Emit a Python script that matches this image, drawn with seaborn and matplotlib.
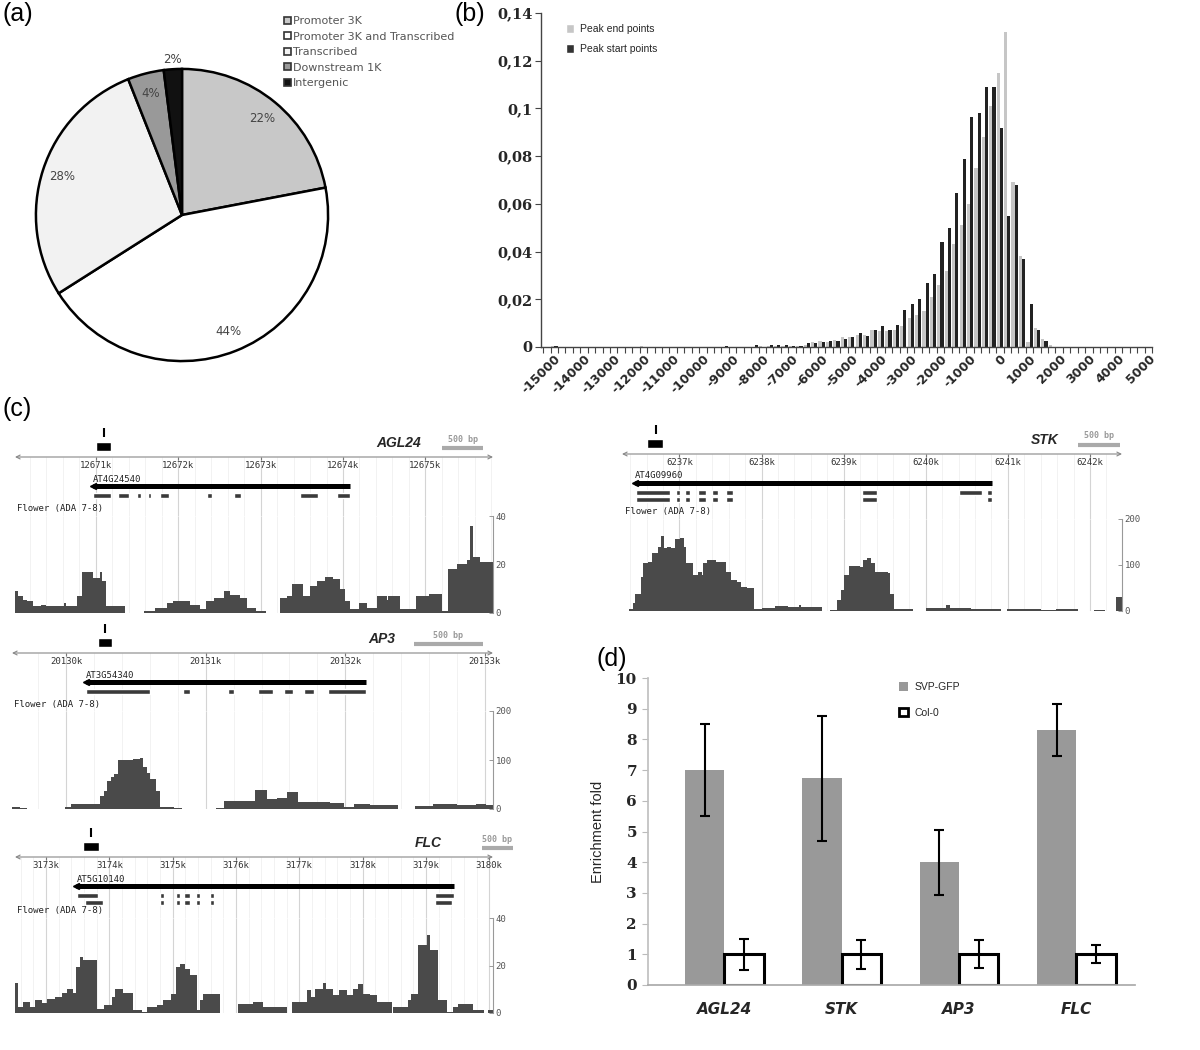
import numpy as np
import pandas as pd
import matplotlib
matplotlib.use("Agg")
import matplotlib.pyplot as plt
import seaborn as sns
from matplotlib.patches import Patch

# ======================= DATA =======================
# (a) distribution of peaks over genomic regions
region_labels = ["Promoter 3K", "Promoter 3K and Transcribed", "Transcribed",
                 "Downstream 1K", "Intergenic"]
region_share = [22, 44, 28, 4, 2]
region_colors = ["#c8c8c8", "#ffffff", "#f2f2f2", "#999999", "#111111"]

# (b) distance of peak start / end points to TSS (250 bp bins)
dist_bins = list(range(-15000, 5001, 250))
peak_end = [
    0.0003, 0, 0, 0, 0, 0, 0, 0, 0, 0,
    0, 0, 0.0004, 0, 0, 0, 0, 0, 0, 0,
    0, 0, 0, 0, 0, 0, 0, 0, 0.0003, 0.0005,
    0.0006, 0.0005, 0.0004, 0.0006, 0.001, 0.002, 0.0025, 0.002, 0.003, 0.004,
    0.004, 0.005, 0.005, 0.007, 0.0067, 0.0068, 0.007, 0.009, 0.012, 0.0135,
    0.015, 0.021, 0.026, 0.032, 0.043, 0.051, 0.060, 0.075, 0.088, 0.101,
    0.115, 0.132, 0.069, 0.038, 0.002, 0.008, 0.0035, 0.001, 0, 0,
    0, 0, 0, 0, 0, 0, 0, 0, 0, 0,
    0]
peak_start = [
    0.0005, 0, 0, 0, 0, 0, 0, 0, 0, 0,
    0, 0, 0, 0, 0, 0, 0, 0, 0, 0,
    0, 0, 0, 0.0004, 0, 0, 0, 0.001, 0, 0.001,
    0.0008, 0.001, 0.0006, 0.0005, 0.0018, 0.0015, 0.002, 0.0025, 0.0025, 0.0035,
    0.004, 0.006, 0.0045, 0.0072, 0.0089, 0.0071, 0.0092, 0.0155, 0.018, 0.020,
    0.027, 0.0306, 0.044, 0.050, 0.0647, 0.0788, 0.0966, 0.098, 0.109, 0.109,
    0.092, 0.055, 0.068, 0.037, 0.018, 0.0072, 0.0025, 0, 0, 0,
    0, 0, 0, 0, 0, 0, 0, 0, 0, 0,
    0]
dist_yticks = [0, 0.02, 0.04, 0.06, 0.08, 0.10, 0.12, 0.14]
dist_ytick_labels = ["0", "0,02", "0,04", "0,06", "0,08", "0,1", "0,12", "0,14"]

# (c) genome browser tracks (positions in kb, coverage in reads)
agl24_cov_kb = [12670.02, 12670.06, 12670.12, 12670.16, 12670.24, 12670.34, 12670.40, 12670.62,
                12670.64, 12670.77, 12670.83, 12670.97, 12671.05, 12671.08, 12671.13, 12671.36,
                12671.58, 12671.72, 12671.86, 12671.94, 12672.14, 12672.26, 12672.34, 12672.43,
                12672.55, 12672.63, 12672.75, 12672.83, 12672.95, 12673.07, 12673.24, 12673.32,
                12673.38, 12673.52, 12673.60, 12673.68, 12673.78, 12673.88, 12673.96, 12674.02,
                12674.09, 12674.19, 12674.29, 12674.41, 12674.53, 12674.55, 12674.69, 12674.88,
                12675.04, 12675.20, 12675.28, 12675.38, 12675.50, 12675.54, 12675.58, 12675.66,
                12675.75, 12675.82]
agl24_cov = [9, 7, 5.5, 5, 3, 3.5, 3, 4,
             3, 7, 17, 14.5, 17, 13, 3, 0,
             0.7, 2, 4, 5, 3.5, 1.6, 5, 6,
             9, 7.5, 6, 2, 0.7, 0, 6, 7,
             12, 7, 11, 13, 15, 14, 10, 5,
             1.8, 4, 2, 7, 5.5, 7, 1.6, 7,
             8, 0.7, 18, 20, 22, 36, 23, 21,
             21, 21]
agl24_exon_start = [12670.968, 12671.271, 12671.502, 12671.628, 12671.781, 12672.352, 12672.676, 12673.478, 12673.931]
agl24_exon_end = [12671.190, 12671.405, 12671.543, 12671.676, 12671.883, 12672.409, 12672.757, 12673.700, 12674.085]
agl24_gene_kb = [12670.97, 12674.085]
agl24_primer_kb = [12671.0, 12671.19, 12671.10]

stk_cov_kb = [6236.30, 6236.39, 6236.43, 6236.46, 6236.53, 6236.55, 6236.62, 6236.67, 6236.74, 6236.78,
              6236.81, 6236.85, 6236.90, 6236.94, 6237.01, 6237.06, 6237.08, 6237.17, 6237.22, 6237.27,
              6237.29, 6237.34, 6237.45, 6237.57, 6237.63, 6237.70, 6237.75, 6237.82, 6237.91, 6238.00,
              6238.16, 6238.32, 6238.46, 6238.48, 6238.74, 6238.83, 6238.92, 6238.97, 6239.01, 6239.06,
              6239.20, 6239.24, 6239.29, 6239.33, 6239.38, 6239.54, 6239.56, 6239.61, 6239.70, 6239.84,
              6240.00, 6240.25, 6240.30, 6240.55, 6240.71, 6240.92, 6240.99, 6241.13, 6241.40, 6241.59,
              6241.86, 6242.05, 6242.18, 6242.32, 6242.39]
stk_cov = [0, 5, 17, 38, 75, 105, 107, 127, 140, 162,
           137, 140, 137, 157, 158, 140, 104, 78, 85, 78,
           104, 111, 107, 85, 67, 64, 53, 49, 5, 7,
           10, 9, 14, 9, 0, 1.5, 23, 45, 78, 98,
           96, 111, 115, 104, 85, 82, 38, 5, 4, 0,
           7, 12, 7, 5, 4, 0, 5, 4, 1.5, 4,
           0, 3, 0, 31, 31]
stk_exon_start = [6236.476, 6236.96, 6237.07, 6237.22, 6237.40, 6237.57, 6239.22, 6240.41, 6240.74]
stk_exon_end = [6236.89, 6237.01, 6237.13, 6237.32, 6237.47, 6237.65, 6239.41, 6240.68, 6240.81]
stk_exon2_start = [6236.476, 6236.96, 6237.07, 6237.22, 6237.40, 6237.57, 6239.22, 6240.74]
stk_exon2_end = [6236.89, 6237.01, 6237.13, 6237.32, 6237.47, 6237.65, 6239.41, 6240.81]
stk_gene_kb = [6236.46, 6240.81]
stk_primer_kb = [6236.60, 6236.80, 6236.71]

ap3_cov_kb = [20129.61, 20129.67, 20129.72, 20129.99, 20130.03, 20130.24, 20130.27, 20130.29, 20130.32,
              20130.34, 20130.37, 20130.48, 20130.53, 20130.55, 20130.58, 20130.60, 20130.64, 20130.67,
              20130.77, 20130.83, 20131.07, 20131.13, 20131.35, 20131.44, 20131.51, 20131.58, 20131.66,
              20131.89, 20131.99, 20132.06, 20132.18, 20132.38, 20132.50, 20132.63, 20132.80, 20132.94,
              20133.01, 20133.06]
ap3_cov = [4, 3, 0, 5, 10, 26, 36, 58, 66,
           72, 100, 103, 105, 86, 73, 61, 36, 5,
           2, 0, 2, 17, 39, 20, 22, 34, 13.5,
           12, 4, 10, 9, 0, 7, 10, 9, 11,
           9, 9]
ap3_exon_start = [20130.143, 20130.84, 20131.162, 20131.377, 20131.561, 20131.706, 20131.878]
ap3_exon_end = [20130.601, 20130.888, 20131.205, 20131.48, 20131.628, 20131.776, 20132.148]
ap3_gene_kb = [20130.143, 20132.148]
ap3_primer_kb = [20130.23, 20130.33, 20130.28]

flc_cov_kb = [3172.51, 3172.56, 3172.64, 3172.75, 3172.83, 3172.93, 3173.01, 3173.14, 3173.25, 3173.33,
              3173.43, 3173.48, 3173.54, 3173.59, 3173.80, 3173.91, 3174.04, 3174.09, 3174.22, 3174.38,
              3174.51, 3174.59, 3174.75, 3174.85, 3174.98, 3175.06, 3175.12, 3175.19, 3175.27, 3175.38,
              3175.43, 3175.48, 3175.75, 3176.04, 3176.27, 3176.43, 3176.80, 3176.88, 3177.12, 3177.19,
              3177.25, 3177.38, 3177.43, 3177.54, 3177.62, 3177.75, 3177.85, 3177.93, 3178.01, 3178.12,
              3178.22, 3178.46, 3178.48, 3178.72, 3178.77, 3178.88, 3179.01, 3179.06, 3179.19, 3179.33,
              3179.43, 3179.51, 3179.75, 3179.91, 3179.98, 3180.06]
flc_cov = [12.7, 2.5, 4.6, 2.5, 5.6, 4.2, 5.8, 6.8, 8.5, 10.3,
           8.6, 19.4, 23.7, 22.3, 1.8, 3.2, 6.8, 9.9, 8.5, 1.4,
           0.4, 2.5, 3.5, 5.4, 8.2, 19.4, 20.8, 18.7, 15.9, 1.1,
           5.4, 8.2, 0, 3.9, 4.6, 2.5, 0, 4.6, 9.6, 6.8,
           10.3, 12.7, 10.3, 7.5, 9.6, 7.5, 10.3, 12.4, 8.2, 7.5,
           4.6, 0, 2.5, 5.6, 8.2, 28.6, 32.8, 26.5, 5.4, 0.4,
           2.5, 3.9, 1.4, 0, 1.1, 1.1]
flc_exon_start = [3173.484, 3174.80, 3175.047, 3175.179, 3175.363, 3175.589, 3179.142]
flc_exon_end = [3173.826, 3174.863, 3175.116, 3175.274, 3175.432, 3175.653, 3179.442]
flc_exon2_start = [3173.616, 3174.80, 3175.047, 3175.179, 3175.363, 3175.589, 3179.142]
flc_exon2_end = [3173.895, 3174.863, 3175.116, 3175.274, 3175.432, 3175.653, 3179.416]
flc_gene_kb = [3173.48, 3179.44]
flc_primer_kb = [3173.58, 3173.83, 3173.71]

# (d) ChIP-qPCR enrichment
genes = ["AGL24", "STK", "AP3", "FLC"]
svp_mean = [7.0, 6.75, 4.0, 8.3]
svp_low = [5.5, 4.7, 2.93, 7.45]
svp_high = [8.5, 8.77, 5.05, 9.14]
col_mean = [1.0, 1.0, 1.0, 1.0]
col_low = [0.5, 0.53, 0.55, 0.72]
col_high = [1.5, 1.47, 1.45, 1.29]

# ======================= FIGURE =======================
sns.set_theme(style="white")
plt.rcParams["font.family"] = ["DejaVu Sans"]
W, H = 1200, 1050
fig = plt.figure(figsize=(W / 100, H / 100), dpi=100)
fig.patch.set_facecolor("white")


def px_axes(left, top, right, bottom):
    return fig.add_axes([left / W, 1 - bottom / H, (right - left) / W, (bottom - top) / H])


def panel_label(x, y, s):
    fig.text(x / W, 1 - y / H, s, ha="left", va="top", fontsize=18,
             family="Liberation Sans", color="black")


# ---------------- (a) ----------------
axa = px_axes(33, 66, 331, 364)
wedges, texts, autotexts = axa.pie(
    region_share, colors=region_colors, startangle=90, counterclock=False,
    autopct=lambda p: f"{p:.0f}%", pctdistance=0.86,
    wedgeprops=dict(edgecolor="black", linewidth=1.8),
    textprops=dict(color="#444444", fontsize=8.5))
w_last = wedges[-1]
ang = np.deg2rad((w_last.theta1 + w_last.theta2) / 2)
autotexts[-1].set_position((1.07 * np.cos(ang), 1.07 * np.sin(ang)))
axa.set_xlim(-1.02, 1.02)
axa.set_ylim(-1.02, 1.02)
axa.set_aspect("equal")
leg_a_handles = [Patch(facecolor=c, edgecolor="#333333", linewidth=1.2) for c in region_colors]
leg_a = fig.legend(leg_a_handles, region_labels, loc="upper left",
                   bbox_to_anchor=(284 / W, 1 - 16 / H), frameon=False, fontsize=8,
                   handlelength=0.6, handleheight=0.6, handletextpad=0.2,
                   labelspacing=0.5, borderaxespad=0, borderpad=0)
for t in leg_a.get_texts():
    t.set_color("#555555")
panel_label(2, 2, "(a)")

# ---------------- (b) ----------------
axb = px_axes(541, 13, 1152, 347)
df_b = pd.DataFrame({
    "bin": dist_bins * 2,
    "freq": peak_end + peak_start,
    "series": ["Peak end points"] * len(dist_bins) + ["Peak start points"] * len(dist_bins),
})
sns.barplot(data=df_b, x="bin", y="freq", hue="series",
            hue_order=["Peak end points", "Peak start points"], order=dist_bins,
            palette=["#c6c6c6", "#222222"], width=0.85, saturation=1,
            errorbar=None, legend=False, linewidth=0, ax=axb)
axb.set_xlim(-1.8, len(dist_bins) - 0.5)
axb.set_ylim(0, 0.14)
axb.set_yticks(dist_yticks)
axb.set_yticklabels(dist_ytick_labels, fontsize=10.5, fontweight="bold", family="DejaVu Serif")
lab_pos = [i for i, b in enumerate(dist_bins) if b % 1000 == 0]
axb.set_xticks(lab_pos)
axb.set_xticklabels([str(dist_bins[i]) for i in lab_pos], rotation=45, ha="right",
                    rotation_mode="anchor", fontsize=9, fontweight="bold")
axb.set_xticks(np.arange(-1.5, len(dist_bins), 1.0), minor=True)
axb.tick_params(axis="x", which="major", length=0, pad=4)
axb.tick_params(axis="x", which="minor", length=4, width=0.8, color="#444444", direction="out",
                bottom=True)
axb.tick_params(axis="y", length=4, width=0.8, color="#444444", left=True, pad=2)
axb.set_xlabel("")
axb.set_ylabel("")
for s in ["top", "right"]:
    axb.spines[s].set_visible(False)
for s in ["left", "bottom"]:
    axb.spines[s].set_color("#444444")
    axb.spines[s].set_linewidth(1.0)
leg_b = fig.legend([Patch(facecolor="#c6c6c6"), Patch(facecolor="#333333")],
                   ["Peak end points", "Peak start points"], loc="upper left",
                   bbox_to_anchor=(566 / W, 1 - 24 / H), frameon=False, fontsize=7.5,
                   handlelength=0.8, handleheight=0.9, handletextpad=0.5,
                   labelspacing=1.0, borderaxespad=0, borderpad=0)
for t in leg_b.get_texts():
    t.set_family("Liberation Sans")
panel_label(455, 2, "(b)")

# ---------------- (c) ----------------
tracks = [
    dict(name="AGL24", gene_id="AT4G24540", box=(15, 493, 457, 516, 613),
         view=(12670.02, 12675.82), cov_kb=agl24_cov_kb, cov=agl24_cov, cov_max=40,
         exons=[(agl24_exon_start, agl24_exon_end)], gene=agl24_gene_kb,
         primer=agl24_primer_kb, name_kb=12674.67, scale_kb=12675.2),
    dict(name="STK", gene_id="AT4G09960", box=(622, 1122, 454, 519, 611),
         view=(6236.30, 6242.39), cov_kb=stk_cov_kb, cov=stk_cov, cov_max=200,
         exons=[(stk_exon_start, stk_exon_end), (stk_exon2_start, stk_exon2_end)],
         gene=stk_gene_kb, primer=stk_primer_kb, name_kb=6241.45, scale_kb=6241.86),
    dict(name="AP3", gene_id="AT3G54340", box=(12, 493, 653, 711, 809),
         view=(20129.61, 20133.06), cov_kb=ap3_cov_kb, cov=ap3_cov, cov_max=200,
         exons=[(ap3_exon_start, ap3_exon_end)], gene=ap3_gene_kb,
         primer=ap3_primer_kb, name_kb=20132.26, scale_kb=20132.49),
    dict(name="FLC", gene_id="AT5G10140", box=(15, 493, 857, 918, 1013),
         view=(3172.51, 3180.06), cov_kb=flc_cov_kb, cov=flc_cov, cov_max=40,
         exons=[(flc_exon_start, flc_exon_end), (flc_exon2_start, flc_exon2_end)],
         gene=flc_gene_kb, primer=flc_primer_kb, name_kb=3179.04, scale_kb=3179.88),
]
mono = "DejaVu Sans Mono"


def draw_track(t):
    left, right, axis_y, cov_top, cov_bottom = t["box"]
    v0, v1 = t["view"]
    off_b = cov_top - axis_y
    majors = np.arange(np.ceil(v0), v1 + 1e-9, 1.0)
    minors = np.arange(np.ceil(v0 * 5) / 5, v1, 0.2)

    ann = px_axes(left, axis_y - 32, right, cov_top)
    ann.set_xlim(v0, v1)
    ann.set_ylim(off_b, -32)
    ann.axis("off")
    ann.vlines(minors, 0, off_b, color="#f0f0f0", lw=0.6, zorder=0)
    ann.vlines(majors, 0, off_b, color="#d4d4d4", lw=0.8, zorder=0)
    ann.annotate("", xy=(v0, 0), xytext=(v1, 0),
                 arrowprops=dict(arrowstyle="<->", color="#888888", lw=0.8,
                                 shrinkA=0, shrinkB=0, mutation_scale=7))
    ann.vlines(majors, 0, 3, color="#777777", lw=0.8)
    for k in majors:
        ann.text(k, 8.5, f"{int(round(k))}k", ha="center", va="center",
                 fontsize=6.5, family=mono, color="#333333", clip_on=False)
    # primer / amplicon
    p0, p1, ptick = t["primer"]
    ann.vlines(ptick, -29, -20, color="black", lw=1.5)
    ann.broken_barh([(p0, p1 - p0)], (-15, 9), facecolors="black")
    # locus name and scale bar
    ann.text(t["name_kb"], -14, t["name"], ha="center", va="center", fontsize=10,
             fontweight="bold", style="italic", family="Liberation Sans")
    sb = t["scale_kb"]
    ann.hlines(-9, sb, sb + 0.5, color="#aaaaaa", lw=3, clip_on=False)
    ann.text(sb + 0.25, -18, "500 bp", ha="center", va="center", fontsize=6,
             family=mono, color="#999999", fontweight="bold", clip_on=False)
    # gene model
    g0, g1 = t["gene"]
    ann.text(g0, 22, t["gene_id"], ha="left", va="center", fontsize=6.5, family=mono,
             color="#222222")
    ann.plot([g0, g1], [29, 29], color="black", lw=3.6, solid_capstyle="butt")
    ann.plot([g0], [29], marker="<", ms=4, color="black", mec="black")
    for r, (es, ee) in enumerate(t["exons"]):
        ann.broken_barh([(s, e - s) for s, e in zip(es, ee)], (36 + 7 * r, 5),
                        facecolors="#3a3a3a")
    ann.text(v0 + 0.005 * (v1 - v0), off_b - 7, "Flower (ADA 7-8)", ha="left", va="center",
             fontsize=6.5, family=mono, color="#222222")

    cov = px_axes(left, cov_top, right, cov_bottom)
    cov.patch.set_alpha(0)
    cov.set_xlim(v0, v1)
    cov.set_ylim(0, t["cov_max"])
    cov.vlines(minors, 0, t["cov_max"], color="#f0f0f0", lw=0.6, zorder=0)
    cov.vlines(majors, 0, t["cov_max"], color="#d4d4d4", lw=0.8, zorder=0)
    cov.fill_between(t["cov_kb"], t["cov"], step="post", color="#4a4a4a", lw=0, zorder=2)
    cov.axhline(0, color="#aaaaaa", lw=0.6, zorder=1)
    for s in ["left", "top", "bottom"]:
        cov.spines[s].set_visible(False)
    cov.spines["right"].set_color("#999999")
    cov.spines["right"].set_linewidth(0.8)
    cov.set_xticks([])
    cov.yaxis.tick_right()
    cm = t["cov_max"]
    cov.set_yticks([0, cm // 2, cm])
    cov.set_yticklabels([str(v) for v in [0, cm // 2, cm]], fontsize=6.5, family=mono,
                        color="#555555")
    cov.tick_params(axis="y", right=True, direction="in", length=3, width=0.7,
                    color="#999999", pad=2)


for tr in tracks:
    draw_track(tr)
panel_label(2, 397, "(c)")

# ---------------- (d) ----------------
axd = px_axes(648, 678, 1135, 985)
df_d = pd.DataFrame({
    "gene": genes * 2,
    "fold": svp_mean + col_mean,
    "sample": ["SVP-GFP"] * len(genes) + ["Col-0"] * len(genes),
})
sns.barplot(data=df_d, x="gene", y="fold", hue="sample", hue_order=["SVP-GFP", "Col-0"],
            order=genes, palette=["#999999", "#ffffff"], width=0.67, saturation=1,
            errorbar=None, legend=False, ax=axd)
for bar in axd.containers[0]:
    bar.set_edgecolor("none")
for bar in axd.containers[1]:
    bar.set_edgecolor("black")
    bar.set_linewidth(2.2)
for cont, mean, lo, hi in [(axd.containers[0], svp_mean, svp_low, svp_high),
                           (axd.containers[1], col_mean, col_low, col_high)]:
    xs = [b.get_x() + b.get_width() / 2 for b in cont]
    yerr = [np.subtract(mean, lo), np.subtract(hi, mean)]
    axd.errorbar(xs, mean, yerr=yerr, fmt="none", ecolor="black", elinewidth=1.5,
                 capsize=3.5, capthick=1.5, zorder=5)
axd.set_xlim(-0.65, 3.5)
axd.set_ylim(0, 10)
axd.set_yticks(range(0, 11))
axd.set_yticklabels([str(v) for v in range(0, 11)], fontsize=11, fontweight="bold",
                    family="DejaVu Serif")
axd.set_xticks(range(len(genes)))
axd.set_xticklabels(genes, fontsize=11, fontweight="bold", style="italic")
axd.tick_params(axis="x", length=0, pad=12)
axd.tick_params(axis="y", left=True, length=4, width=0.8, color="#bbbbbb", pad=4)
axd.set_xlabel("")
axd.set_ylabel("Enrichment fold", fontsize=10.5, family="Liberation Sans")
axd.yaxis.set_label_coords((605 - 648) / (1135 - 648), 0.5)
for s in ["top", "right"]:
    axd.spines[s].set_visible(False)
axd.spines["left"].set_color("#c0c0c0")
axd.spines["bottom"].set_color("#aaaaaa")
leg_d = fig.legend([Patch(facecolor="#999999", edgecolor="none"),
                    Patch(facecolor="white", edgecolor="black", linewidth=2)],
                   ["SVP-GFP", "Col-0"], loc="upper left",
                   bbox_to_anchor=(899 / W, 1 - 682 / H), frameon=False, fontsize=7.5,
                   handlelength=0.9, handleheight=0.9, handletextpad=0.6,
                   labelspacing=1.5, borderaxespad=0, borderpad=0)
for t in leg_d.get_texts():
    t.set_family("Liberation Sans")
panel_label(596, 647, "(d)")

fig.savefig("out.png", dpi=100, facecolor="white")
